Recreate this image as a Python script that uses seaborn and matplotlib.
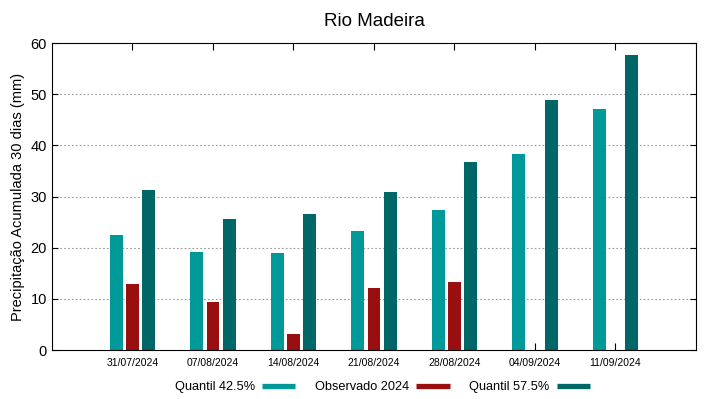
import matplotlib.pyplot as plt
import matplotlib.lines as mlines
import numpy as np
import pandas as pd
import seaborn as sns


# =========================
# DATA
# =========================
dates = ["31/07/2024", "07/08/2024", "14/08/2024", "21/08/2024",
         "28/08/2024", "04/09/2024", "11/09/2024"]
q425 = [22.5, 19.2, 19.0, 23.3, 27.4, 38.4, 47.2]
obs2024 = [13.0, 9.3, 3.1, 12.1, 13.2, np.nan, np.nan]
q575 = [31.3, 25.7, 26.6, 30.9, 36.7, 48.9, 57.6]

series_names = ["Quantil 42.5%", "Observado 2024", "Quantil 57.5%"]
colors = ["#009999", "#990f0f", "#006666"]

# =========================
# LONG FORMAT
# =========================
df = pd.DataFrame({"data": dates, series_names[0]: q425,
                   series_names[1]: obs2024, series_names[2]: q575})
df = df.melt(id_vars="data", var_name="serie", value_name="valor").dropna()

sns.set_style("white")
plt.rcParams["font.family"] = ["Liberation Sans", "DejaVu Sans"]
for k in ["text.color", "axes.labelcolor", "xtick.color", "ytick.color"]:
    plt.rcParams[k] = "black"

fig = plt.figure(figsize=(7.19, 3.99), dpi=100)
ax = fig.add_axes([0.0723, 0.1228, 0.8957, 0.7692])

sns.barplot(data=df, x="data", y="valor", hue="serie", order=dates,
            hue_order=series_names, palette=colors, width=0.6, gap=0.2,
            errorbar=None, saturation=1, linewidth=0, ax=ax, legend=False)

ax.set_xlim(-1, len(dates))
ax.set_ylim(0, 60)
ax.set_yticks(range(0, 61, 10))
for y in range(10, 60, 10):
    ax.axhline(y, color="#999999", linestyle=(0, (1.5, 2)), linewidth=0.8, zorder=0)

ax.set_xlabel("")
ax.set_ylabel("Precipitação Acumulada 30 dias (mm)", fontsize=10.5)
ax.set_title("Rio Madeira", fontsize=13.5, pad=12)

ax.tick_params(axis="x", labelsize=7.5, direction="in", top=True, bottom=True,
               length=5, width=0.8, pad=6)
ax.tick_params(axis="y", labelsize=10.5, direction="in", left=True, right=True,
               length=4, width=0.8)
for s in ax.spines.values():
    s.set_color("black")
    s.set_linewidth(0.8)

# legend gnuplot style (text first, sample after)
handles = [mlines.Line2D([], [], color=c, linewidth=3.8, solid_capstyle="butt")
           for c in colors]
fig.legend(handles, series_names, loc="center", bbox_to_anchor=(0.532, 0.03),
           ncol=3, frameon=False, markerfirst=False, fontsize=9.2,
           handlelength=2.6, columnspacing=1.55, handletextpad=0.55)

fig.savefig("out.png", dpi=100)
